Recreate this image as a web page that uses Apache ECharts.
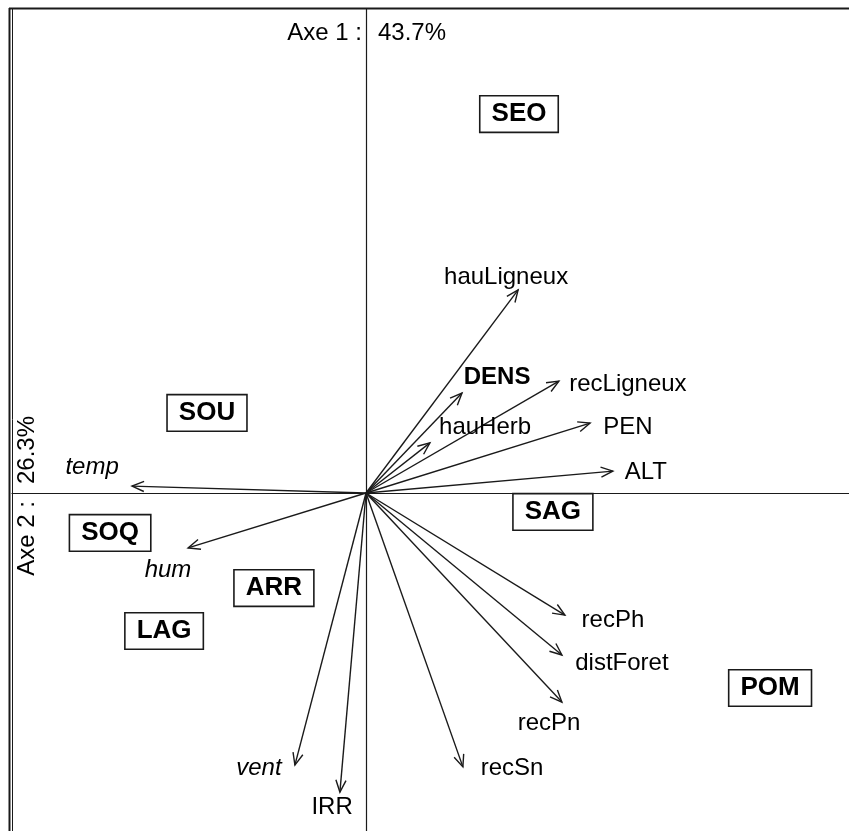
<!DOCTYPE html>
<html>
<head>
<meta charset="utf-8">
<script src="https://cdn.jsdelivr.net/npm/echarts@6/dist/echarts.min.js"></script>
<style>
  html, body { margin: 0; padding: 0; background: #fff; }
  #chart { width: 849px; height: 831px; }
</style>
</head>
<body>
<div id="chart"></div>
<script>
// variables (arrows) : end of each arrow on axes 1 and 2
const varNames = ['hauLigneux', 'DENS', 'recLigneux', 'hauHerb', 'PEN', 'ALT', 'temp', 'hum', 'vent', 'IRR', 'recSn', 'recPn', 'distForet', 'recPh']
const varAxe1 = [0.507, 0.32, 0.643, 0.213, 0.747, 0.823, -0.78, -0.593, -0.237, -0.087, 0.323, 0.653, 0.653, 0.663]
const varAxe2 = [0.677, 0.333, 0.373, 0.167, 0.233, 0.073, 0.023, -0.183, -0.907, -0.997, -0.913, -0.697, -0.54, -0.407]
// where each variable name is written
const labAxe1 = [0.467, 0.437, 0.873, 0.397, 0.873, 0.933, -0.913, -0.66, -0.357, -0.113, 0.487, 0.61, 0.853, 0.823]
const labAxe2 = [0.72, 0.387, 0.363, 0.22, 0.22, 0.07, 0.087, -0.257, -0.917, -1.047, -0.917, -0.767, -0.567, -0.423]
const italicVars = ['temp', 'hum', 'vent']
const boldVars = ['DENS']

// sites (boxed labels)
const siteNames = ['SEO', 'SOU', 'SAG', 'SOQ', 'ARR', 'LAG', 'POM']
const siteAxe1 = [0.51, -0.53, 0.623, -0.853, -0.307, -0.673, 1.347]
const siteAxe2 = [1.263, 0.267, -0.063, -0.133, -0.317, -0.46, -0.65]

const axe1Pct = '43.7%'
const axe2Pct = '26.3%'

const FONT = '"Liberation Sans", Arial, sans-serif'
const INK = '#000'
const LINE = '#1a1a1a'

const chart = echarts.init(document.getElementById('chart'))

const arrowData = varNames.map((n, i) => [varAxe1[i], varAxe2[i]])
const varLabelData = varNames.map((n, i) => {
  const d = { name: n, value: [labAxe1[i], labAxe2[i]] }
  if (italicVars.includes(n)) d.label = { fontStyle: 'italic' }
  if (boldVars.includes(n)) d.label = { fontWeight: 'bold' }
  return d
})
const siteData = siteNames.map((n, i) => ({ name: n, value: [siteAxe1[i], siteAxe2[i]] }))

const renderArrow = (params, api) => {
  const p0 = api.coord([0, 0])
  const p1 = api.coord([api.value(0), api.value(1)])
  const ang = Math.atan2(p1[1] - p0[1], p1[0] - p0[0])
  const len = 13
  const spread = 0.4
  const a = [p1[0] - len * Math.cos(ang - spread), p1[1] - len * Math.sin(ang - spread)]
  const b = [p1[0] - len * Math.cos(ang + spread), p1[1] - len * Math.sin(ang + spread)]
  const style = { stroke: LINE, lineWidth: 1.4, fill: null }
  return {
    type: 'group',
    children: [
      { type: 'line', shape: { x1: p0[0], y1: p0[1], x2: p1[0], y2: p1[1] }, style },
      { type: 'polyline', shape: { points: [a, p1, b] }, style }
    ]
  }
}

const option = {
  animation: false,
  backgroundColor: '#fff',
  grid: { left: 12, right: 0, top: 9, bottom: 0 },
  xAxis: {
    type: 'value',
    min: -1.18,
    max: 1.61,
    axisLine: { show: true, onZero: true, lineStyle: { color: LINE, width: 1.2 } },
    axisTick: { show: false },
    axisLabel: { show: false },
    splitLine: { show: false }
  },
  yAxis: {
    type: 'value',
    min: -1.1267,
    max: 1.6133,
    axisLine: { show: true, onZero: true, lineStyle: { color: LINE, width: 1.2 } },
    axisTick: { show: false },
    axisLabel: { show: false },
    splitLine: { show: false }
  },
  series: [
    {
      type: 'custom',
      renderItem: renderArrow,
      data: arrowData,
      silent: true
    },
    {
      type: 'scatter',
      symbolSize: 0,
      data: varLabelData,
      silent: true,
      itemStyle: { opacity: 1 },
      label: {
        show: true,
        position: 'inside',
        formatter: (p) => p.name,
        fontFamily: FONT,
        fontSize: 24,
        color: INK
      }
    },
    {
      type: 'scatter',
      symbolSize: 0,
      data: siteData,
      silent: true,
      itemStyle: { opacity: 1 },
      label: {
        show: true,
        position: 'inside',
        formatter: (p) => p.name,
        fontFamily: FONT,
        fontSize: 26,
        fontWeight: 'bold',
        color: INK,
        backgroundColor: '#fff',
        borderColor: LINE,
        borderWidth: 1.6,
        padding: [5, 11, 4, 11]
      }
    }
  ]
}

chart.setOption(option)

// axis titles and frame, placed around the origin given by the axes
const o = chart.convertToPixel({ gridIndex: 0 }, [0, 0])
const txt = { fontFamily: FONT, fontSize: 24, fill: INK }
chart.setOption({
  graphic: [
    { type: 'line', shape: { x1: 9, y1: 8.5, x2: 849, y2: 8.5 }, style: { stroke: LINE, lineWidth: 2 } },
    { type: 'line', shape: { x1: 9.5, y1: 8, x2: 9.5, y2: 831 }, style: { stroke: LINE, lineWidth: 2 } },
    { type: 'line', shape: { x1: 12.5, y1: 8, x2: 12.5, y2: 831 }, style: { stroke: LINE, lineWidth: 1 } },
    { type: 'text', x: o[0] - 4, y: 33, style: Object.assign({ text: 'Axe 1 :', align: 'right', verticalAlign: 'middle' }, txt) },
    { type: 'text', x: o[0] + 12, y: 33, style: Object.assign({ text: axe1Pct, align: 'left', verticalAlign: 'middle' }, txt) },
    { type: 'text', x: 27, y: o[1] + 8, rotation: Math.PI / 2, style: Object.assign({ text: 'Axe 2 :', align: 'right', verticalAlign: 'middle' }, txt) },
    { type: 'text', x: 27, y: o[1] - 9, rotation: Math.PI / 2, style: Object.assign({ text: axe2Pct, align: 'left', verticalAlign: 'middle' }, txt) }
  ]
})
</script>
</body>
</html>
